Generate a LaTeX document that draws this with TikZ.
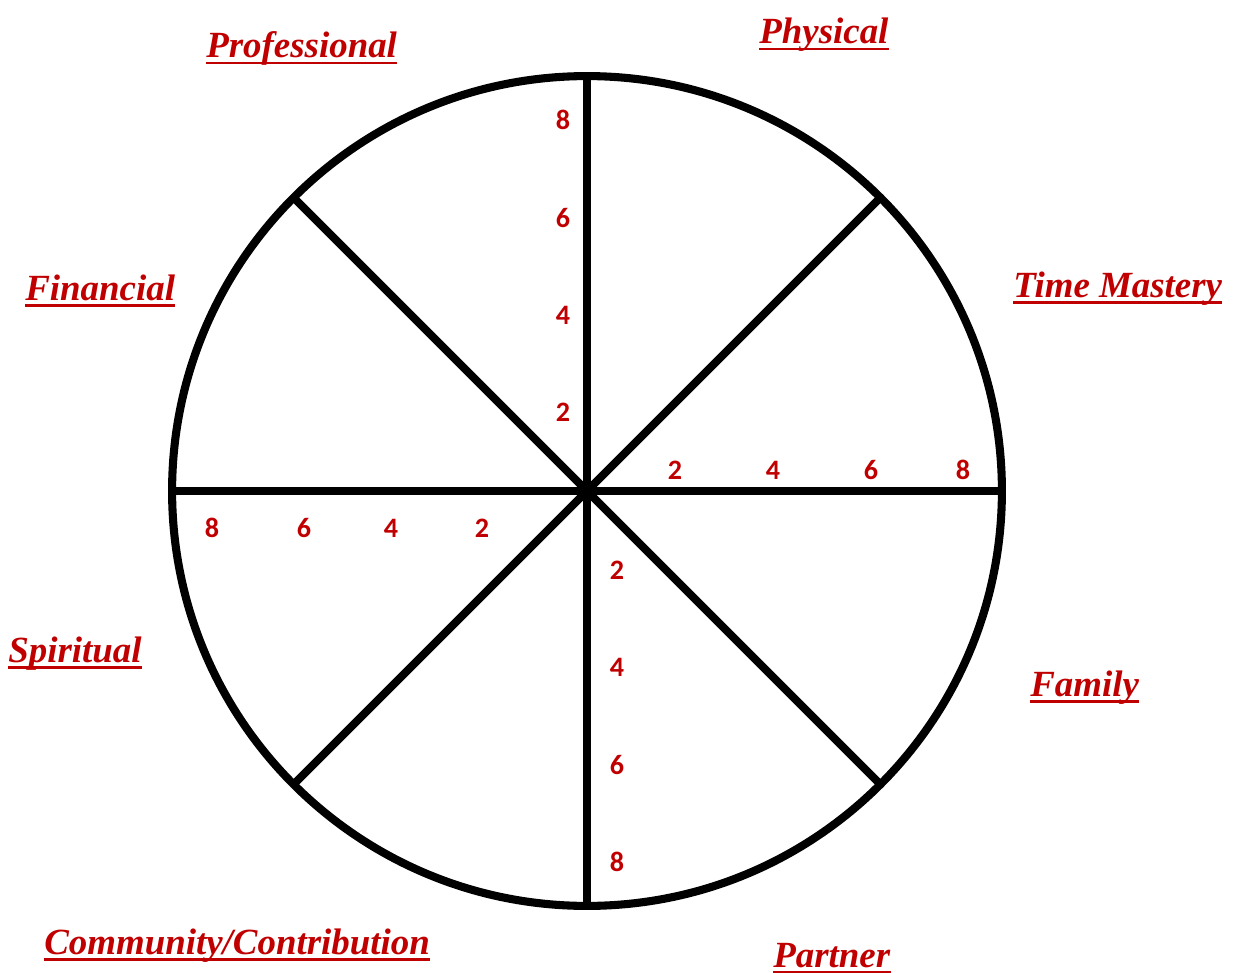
\documentclass[tikz,border=0pt]{standalone}
\usepackage{fontspec}
\newfontfamily\areafont{Liberation Serif}
\newfontfamily\scorefont{Carlito}
\definecolor{wheelred}{RGB}{192, 0, 0}
\usetikzlibrary{positioning}

\begin{document}
\begin{tikzpicture}[
  x=0.02cm, y=-0.02cm,
  spoke/.style={line width=4.6pt},
  score/.style={text=wheelred, font=\scorefont\bfseries\fontsize{16}{16}\selectfont, inner sep=0pt},
  area/.style={text=wheelred, font=\areafont\bfseries\itshape\fontsize{21}{21}\selectfont, anchor=base west, inner sep=0pt},
  uline/.style={draw=wheelred, line width=1.4pt}
]
  \useasboundingbox (0,0) rectangle (1248,973);

  % the wheel and its eight spokes
  \node (wheel) [circle, draw, line width=4.6pt, minimum size=16.6cm, inner sep=0pt, outer sep=0pt] at (587,491) {};
  \draw[spoke] (wheel.north) -- (wheel.south);
  \draw[spoke] (wheel.west) -- (wheel.east);
  \draw[spoke] (wheel.45) -- (wheel.225);
  \draw[spoke] (wheel.135) -- (wheel.315);

  % scores along the axes
  \foreach \v/\y in {2/412, 4/315, 6/218, 8/120}
    \node[score] (up\v) at (563,\y) {\v};
  \foreach \v/\x in {2/675, 4/773, 6/871, 8/963}
    \node[score] (rt\v) at (\x,470) {\v};
  \foreach \v/\x in {2/482, 4/391, 6/304, 8/212}
    \node[score] (lf\v) at (\x,528) {\v};
  \foreach \v/\y in {2/570, 4/667, 6/765, 8/862}
    \node[score] (dn\v) at (617,\y) {\v};

  % life areas, underlined
  \foreach \name/\x/\y/\txt in {prof/206/58/Professional, phys/759/44/Physical,
      time/1013/297/{Time Mastery}, fin/25/300/Financial, spir/8/662/Spiritual,
      comm/44/954/{Community/Contribution}, fam/1030/696/Family, part/773/967/Partner} {
    \node[area] (\name) at (\x,\y) {\txt};
    \draw[uline] ([yshift=-3pt]\name.base west) -- ([yshift=-3pt]\name.base east);
  }
\end{tikzpicture}
\end{document}
